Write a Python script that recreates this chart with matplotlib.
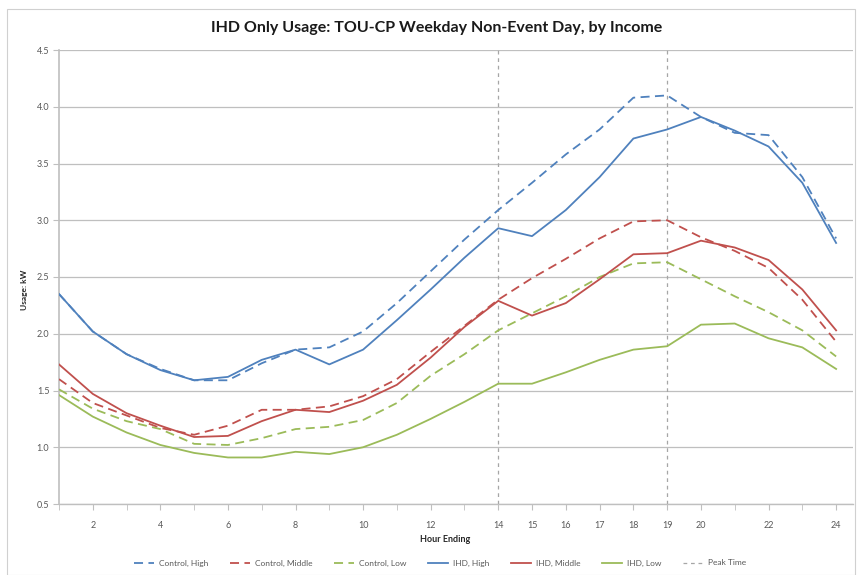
import matplotlib
matplotlib.use("Agg")
import matplotlib.pyplot as plt
from matplotlib.lines import Line2D
from matplotlib.patches import Rectangle

hours = list(range(1, 25))
control_high = [2.35, 2.02, 1.82, 1.69, 1.59, 1.59, 1.74, 1.86, 1.88, 2.02, 2.27, 2.55,
                2.83, 3.09, 3.33, 3.58, 3.80, 4.08, 4.10, 3.91, 3.77, 3.75, 3.38, 2.84]
control_mid = [1.60, 1.39, 1.28, 1.17, 1.11, 1.19, 1.33, 1.33, 1.36, 1.45, 1.60, 1.84,
               2.07, 2.30, 2.49, 2.66, 2.84, 2.99, 3.00, 2.85, 2.73, 2.58, 2.30, 1.93]
control_low = [1.51, 1.34, 1.23, 1.16, 1.03, 1.02, 1.08, 1.16, 1.18, 1.24, 1.39, 1.63,
               1.82, 2.03, 2.18, 2.33, 2.50, 2.62, 2.63, 2.48, 2.33, 2.19, 2.03, 1.80]
ihd_high = [2.35, 2.02, 1.82, 1.68, 1.59, 1.62, 1.77, 1.86, 1.73, 1.86, 2.12, 2.39,
            2.67, 2.93, 2.86, 3.09, 3.38, 3.72, 3.80, 3.91, 3.79, 3.65, 3.33, 2.80]
ihd_mid = [1.73, 1.47, 1.30, 1.19, 1.09, 1.10, 1.23, 1.33, 1.31, 1.41, 1.55, 1.79,
           2.06, 2.29, 2.16, 2.27, 2.48, 2.70, 2.71, 2.82, 2.76, 2.65, 2.39, 2.03]
ihd_low = [1.46, 1.27, 1.13, 1.02, 0.95, 0.91, 0.91, 0.96, 0.94, 1.00, 1.11, 1.25,
           1.40, 1.56, 1.56, 1.66, 1.77, 1.86, 1.89, 2.08, 2.09, 1.96, 1.88, 1.69]
peak_hours = [14, 19]
x_tick_labels = [2, 4, 6, 8, 10, 12, 14, 15, 16, 17, 18, 19, 20, 22, 24]
y_ticks = [0.5, 1.0, 1.5, 2.0, 2.5, 3.0, 3.5, 4.0, 4.5]

BLUE = "#4F81BD"
RED = "#C0504D"
GREEN = "#9BBB59"
GRAY = "#A6A6A6"

plt.rcParams['font.family'] = ['Lato', 'DejaVu Sans']

W, H = 859, 575
fig = plt.figure(figsize=(W / 100, H / 100), dpi=100)
fig.patches.append(Rectangle((7 / W, 0), (855 - 7) / W, 1 - 9 / H, transform=fig.transFigure,
                             fill=False, edgecolor="#D0D0D0", linewidth=0.8))

ax = fig.add_axes([59 / W, 1 - 504 / H, (853 - 59) / W, (504 - 50) / H])
ax.set_xlim(1, 24.5)
ax.set_ylim(0.5, 4.5)

dash = (0, (5, 3))
lw = 1.3
series = [
    (control_high, BLUE, dash, "Control, High"),
    (control_mid, RED, dash, "Control, Middle"),
    (control_low, GREEN, dash, "Control, Low"),
    (ihd_high, BLUE, "-", "IHD, High"),
    (ihd_mid, RED, "-", "IHD, Middle"),
    (ihd_low, GREEN, "-", "IHD, Low"),
]
handles = []
for vals, col, ls, lab in series:
    ln, = ax.plot(hours, vals, color=col, linestyle=ls, linewidth=lw, label=lab, zorder=3)
    handles.append(ln)

for ph in peak_hours:
    ax.axvline(ph, color=GRAY, linestyle=(0, (3, 3)), linewidth=0.9, zorder=2)
handles.append(Line2D([], [], color=GRAY, linestyle=(0, (3, 3)), linewidth=0.9, label="Peak Time"))

ax.set_yticks(y_ticks)
ax.set_yticklabels([f"{v:.1f}" for v in y_ticks], fontsize=6.5, color="#595959")
ax.yaxis.grid(True, color="#BFBFBF", linewidth=0.9)
ax.set_axisbelow(True)

ax.set_xticks(hours, minor=True)
ax.set_xticks(x_tick_labels)
ax.set_xticklabels([str(v) for v in x_tick_labels], fontsize=6.5, color="#595959")
ax.tick_params(axis="x", which="both", length=4, color="#BFBFBF", direction="out", pad=8)
ax.tick_params(axis="y", length=4, color="#BFBFBF", direction="out", pad=3)

for s in ["top", "right"]:
    ax.spines[s].set_visible(False)
ax.spines["left"].set_color("#BFBFBF")
ax.spines["bottom"].set_color("#BFBFBF")
ax.spines["left"].set_linewidth(1.2)
ax.spines["bottom"].set_linewidth(1.0)

fig.text(437 / W, 1 - 28 / H, "IHD Only Usage: TOU-CP Weekday Non-Event Day, by Income",
         ha="center", va="center", fontsize=11.5, fontweight="bold", color="#1a1a1a")
fig.text(25 / W, 1 - 290 / H, "Usage: kW", rotation=90, ha="center", va="center",
         fontsize=6, fontweight="bold", color="#262626")
fig.text(445 / W, 1 - 539 / H, "Hour Ending", ha="center", va="center",
         fontsize=6.5, fontweight="bold", color="#262626")

fig.legend(handles=handles, loc="center", bbox_to_anchor=(440 / W, 1 - 563 / H), ncol=7,
           frameon=False, fontsize=6, labelcolor="#595959", handlelength=2.4,
           columnspacing=2.6, handletextpad=0.6)

fig.savefig("out.png", dpi=100)
